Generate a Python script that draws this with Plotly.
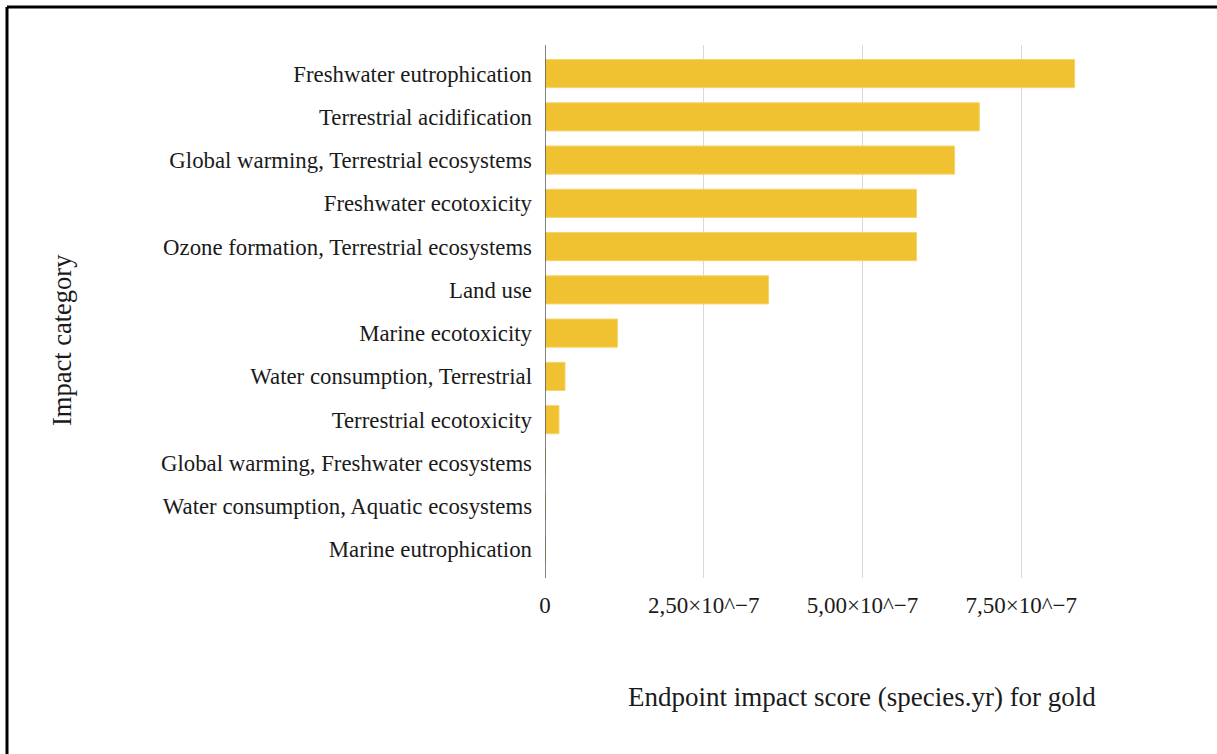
import plotly.graph_objects as go

# Impact categories, listed top to bottom
categories = [
    "Freshwater eutrophication",
    "Terrestrial acidification",
    "Global warming, Terrestrial ecosystems",
    "Freshwater ecotoxicity",
    "Ozone formation, Terrestrial ecosystems",
    "Land use",
    "Marine ecotoxicity",
    "Water consumption, Terrestrial",
    "Terrestrial ecotoxicity",
    "Global warming, Freshwater ecosystems",
    "Water consumption, Aquatic ecosystems",
    "Marine eutrophication",
]

# Endpoint impact scores (species.yr) for gold
scores = [
    8.34e-7,
    6.84e-7,
    6.45e-7,
    5.85e-7,
    5.85e-7,
    3.52e-7,
    1.14e-7,
    3.15e-8,
    2.2e-8,
    0.0,
    0.0,
    0.0,
]

tick_values = [0, 2.5e-7, 5.0e-7, 7.5e-7, 1.0e-6]
tick_labels = ["0", "2,50×10^−7", "5,00×10^−7", "7,50×10^−7", ""]

W, H = 1217, 754
ML, MR, MT, MB = 545, 37, 45, 176
PW, PH = W - ML - MR, H - MT - MB

FONT = "Liberation Serif, Times New Roman, serif"
BAR = "#F0C232"
TXT = "#1a1a1a"


def px_to_paper(x, y):
    return (x - ML) / PW, (H - MB - y) / PH


fig = go.Figure(
    go.Bar(
        x=scores,
        y=categories,
        orientation="h",
        marker=dict(color=BAR, line=dict(color="#F5D468", width=1)),
        width=0.65,
        hoverinfo="x+y",
    )
)

fig.update_layout(
    width=W,
    height=H,
    margin=dict(l=ML, r=MR, t=MT, b=MB, pad=0),
    paper_bgcolor="white",
    plot_bgcolor="white",
    showlegend=False,
    font=dict(family=FONT, size=19, color=TXT),
    xaxis=dict(
        range=[0, 1.0e-6],
        tickvals=tick_values,
        ticktext=tick_labels,
        showgrid=True,
        gridcolor="#d9d9d9",
        gridwidth=1,
        zeroline=False,
        showline=False,
        ticks="",
        ticklabelstandoff=11,
        tickfont=dict(family=FONT, size=23, color=TXT),
        fixedrange=True,
    ),
    yaxis=dict(
        type="category",
        categoryorder="array",
        categoryarray=categories,
        range=[len(categories) - 1 + 0.66, -0.66],
        showgrid=False,
        zeroline=False,
        showline=False,
        ticks="",
        ticklabelstandoff=12,
        tickfont=dict(family=FONT, size=22.8, color=TXT),
        fixedrange=True,
    ),
)

# y axis line drawn at x = 0
fig.add_shape(
    type="line", xref="x", yref="paper", x0=0, x1=0, y0=0, y1=1,
    line=dict(color="#595959", width=1.5), layer="above",
)

# Axis titles
tx, ty = px_to_paper(862, 697)
fig.add_annotation(
    text="Endpoint impact score (species.yr) for gold",
    xref="paper", yref="paper", x=tx, y=ty,
    showarrow=False, xanchor="center", yanchor="middle",
    font=dict(family=FONT, size=27, color=TXT),
)
ax_, ay_ = px_to_paper(62, 340)
fig.add_annotation(
    text="Impact category",
    xref="paper", yref="paper", x=ax_, y=ay_,
    showarrow=False, xanchor="center", yanchor="middle", textangle=-90,
    font=dict(family=FONT, size=26.5, color=TXT),
)

# Frame along the top and left edges
x0, y0 = px_to_paper(7, 7)
x1, _ = px_to_paper(W + 5, 7)
_, y1 = px_to_paper(7, H + 5)
fig.add_shape(type="line", xref="paper", yref="paper", x0=x0, x1=x1, y0=y0, y1=y0,
              line=dict(color="black", width=3))
fig.add_shape(type="line", xref="paper", yref="paper", x0=x0, x1=x0, y0=y0, y1=y1,
              line=dict(color="black", width=3))

fig.write_html("out.html")
